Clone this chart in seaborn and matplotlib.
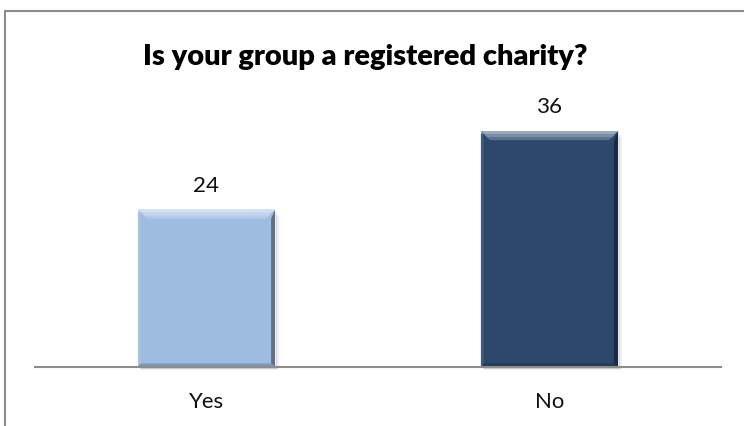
import matplotlib
matplotlib.use("Agg")
import matplotlib.pyplot as plt
from matplotlib.patches import Polygon, Rectangle
import seaborn as sns
import pandas as pd

categories = ["Yes", "No"]
counts = [24, 36]
bar_colors = ["#9EBBE1", "#2C486C"]
title = "Is your group a registered charity?"

sns.set_theme(style="white")
plt.rcParams["font.family"] = ["Lato", "DejaVu Sans"]

df = pd.DataFrame({"answer": categories, "count": counts})

W, H = 744, 426
fig = plt.figure(figsize=(W / 100, H / 100), dpi=100)
ax = fig.add_axes([35 / W, 1 - 366.5 / H, 686 / W, 261.5 / H])

sns.barplot(data=df, x="answer", y="count", hue="answer", palette=bar_colors,
            width=0.4, legend=False, ax=ax, saturation=1, zorder=3)

ax.set_ylim(0, 40)
ax.set_xlim(-0.5, 1.5)


def shade(c, f):
    r, g, b = matplotlib.colors.to_rgb(c)
    if f > 0:
        return (r + (1 - r) * f, g + (1 - g) * f, b + (1 - b) * f)
    return (r * (1 + f), g * (1 + f), b * (1 + f))


def fit_width(text, target_px):
    """Rescale a text's font size so it spans target_px pixels."""
    r = fig.canvas.get_renderer()
    w = text.get_window_extent(r).width
    text.set_fontsize(text.get_fontsize() * target_px / w)
    return text.get_fontsize()


# bevelled edges on each bar, sized in display pixels
to_data = ax.transData.inverted()
value_labels = []
for patch, col, val in zip(ax.patches[:len(counts)], bar_colors, counts):
    x0, y0 = patch.get_x(), patch.get_y()
    w, h = patch.get_width(), patch.get_height()
    x1, y1 = x0 + w, y0 + h
    p0 = ax.transData.transform((x0, y0))

    def px(n):
        return to_data.transform((p0[0] + n, p0[1]))[0] - x0

    def py(n):
        return to_data.transform((p0[0], p0[1] + n))[1] - y0

    # soft drop shadow to the right and below
    ax.add_patch(Rectangle((x0 + px(2), y0 - py(2)), w, h - py(2),
                           facecolor=(0, 0, 0, 0.14), edgecolor="none",
                           zorder=2, clip_on=False))
    ax.add_patch(Rectangle((x0 + px(3.5), y0 - py(3)), w, h - py(3),
                           facecolor=(0, 0, 0, 0.06), edgecolor="none",
                           zorder=2, clip_on=False))
    tb, sb, bb = py(9), px(4), py(3)
    top = Polygon([(x0, y1), (x1, y1), (x1 - px(9), y1 - tb), (x0 + px(9), y1 - tb)],
                  closed=True, facecolor=shade(col, 0.22), edgecolor="none", zorder=4)
    top_mid = Polygon([(x0 + px(0.5), y1), (x1 - px(0.5), y1),
                       (x1 - px(6), y1 - py(6)), (x0 + px(6), y1 - py(6))],
                      closed=True, facecolor=shade(col, 0.38), edgecolor="none", zorder=4)
    top_hi = Polygon([(x0 + px(1), y1), (x1 - px(1), y1),
                      (x1 - px(3), y1 - py(2.5)), (x0 + px(3), y1 - py(2.5))],
                     closed=True, facecolor=shade(col, 0.55), edgecolor="none", zorder=4)
    right = Polygon([(x1, y1), (x1, y0), (x1 - sb, y0 + bb), (x1 - sb, y1 - tb)],
                    closed=True, facecolor=shade(col, -0.40), edgecolor="none", zorder=4)
    left = Polygon([(x0, y1), (x0, y0), (x0 + px(3), y0 + bb), (x0 + px(3), y1 - tb)],
                   closed=True, facecolor=shade(col, 0.10), edgecolor="none", zorder=4)
    bottom = Polygon([(x0, y0), (x1, y0), (x1 - sb, y0 + bb), (x0 + px(3), y0 + bb)],
                     closed=True, facecolor=shade(col, -0.20), edgecolor="none", zorder=4)
    for p in (top, top_mid, top_hi, right, left, bottom):
        ax.add_patch(p)
    t = ax.annotate(f"{val}", xy=(x0 + w / 2, y1), xytext=(0, 18 * 0.72),
                    textcoords="offset points", ha="center", va="baseline",
                    fontsize=14, color="#111111")
    value_labels.append(t)

for s in ("top", "right", "left"):
    ax.spines[s].set_visible(False)
ax.spines["bottom"].set_color("#8c8c8c")
ax.spines["bottom"].set_linewidth(1.5)
ax.spines["bottom"].set_zorder(5)
ax.set_yticks([])
ax.set_xlabel("")
ax.set_ylabel("")
ax.tick_params(axis="x", length=0, pad=18, labelsize=14, labelcolor="#111111")

ttl = fig.text(365.5 / W, 1 - 65 / H, title, ha="center", va="baseline",
               fontsize=20, fontweight="heavy", color="black")

fig.canvas.draw()
fit_width(ttl, 445)
num_size = fit_width(value_labels[1], 26)
for t in value_labels:
    t.set_fontsize(num_size)
tick_size = fit_width(ax.get_xticklabels()[0], 35)
ax.tick_params(axis="x", labelsize=tick_size)

# chart frame
fig.add_artist(Rectangle((5 / W, -0.05), 1.0, 1 - 11 / H + 0.05,
                         transform=fig.transFigure, facecolor="none",
                         edgecolor="#8c8c8c", linewidth=1.5))

fig.savefig("out.png", dpi=100)
